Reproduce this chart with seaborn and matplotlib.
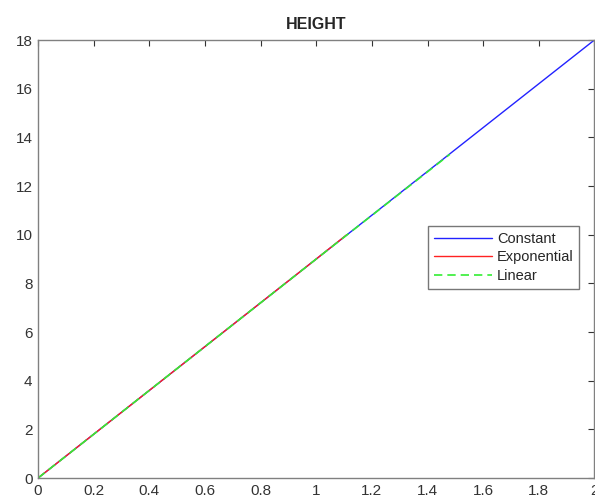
import matplotlib
matplotlib.use('Agg')
import matplotlib.pyplot as plt
import seaborn as sns

# Height curves (x vs height)
const_x = [0.0, 0.5, 1.0, 1.5, 2.0]
const_y = [0.0, 4.5, 9.0, 13.5, 18.0]
expo_x = [0.0, 0.5, 1.0, 1.11]
expo_y = [0.0, 4.5, 9.0, 10.0]
lin_x = [0.0, 0.5, 1.0, 1.48]
lin_y = [0.0, 4.5, 9.0, 13.3]

sns.set_style('white')
plt.rcParams['font.family'] = ['Liberation Sans', 'DejaVu Sans']

fig = plt.figure(figsize=(5.95, 5.0), dpi=100)
ax = fig.add_axes([0.064, 0.044, 0.935, 0.876])

sns.lineplot(x=const_x, y=const_y, ax=ax, color='#2222ff', lw=1.0, label='Constant')
sns.lineplot(x=expo_x, y=expo_y, ax=ax, color='#ff2222', lw=1.0, label='Exponential')
sns.lineplot(x=lin_x, y=lin_y, ax=ax, color='#33ee33', lw=1.2, dashes=False, label='Linear')
ax.lines[2].set_dashes((5, 3))

ax.set_xlim(0, 2)
ax.set_ylim(0, 18)
ax.set_xticks([0, 0.2, 0.4, 0.6, 0.8, 1, 1.2, 1.4, 1.6, 1.8, 2])
ax.set_xticklabels(['0', '0.2', '0.4', '0.6', '0.8', '1', '1.2', '1.4', '1.6', '1.8', '2'])
ax.set_yticks(range(0, 19, 2))
ax.tick_params(direction='in', top=True, right=True, length=4, width=0.8,
               colors='#333333', labelsize=11, pad=4)
for s in ax.spines.values():
    s.set_color('#808080')
    s.set_linewidth(1.0)
ax.set_title('HEIGHT', fontsize=11.5, fontweight='bold', pad=8)

leg = ax.legend(loc='upper right', bbox_to_anchor=(0.973, 0.575), fontsize=10.5,
                frameon=True, fancybox=False, borderpad=0.4, labelspacing=0.3,
                handlelength=4.0, handletextpad=0.3, borderaxespad=0)
leg.get_frame().set_edgecolor('#555555')
leg.get_frame().set_linewidth(1.0)
leg.get_lines()[2].set_dashes((5, 3))

fig.savefig('out.png', dpi=100)
